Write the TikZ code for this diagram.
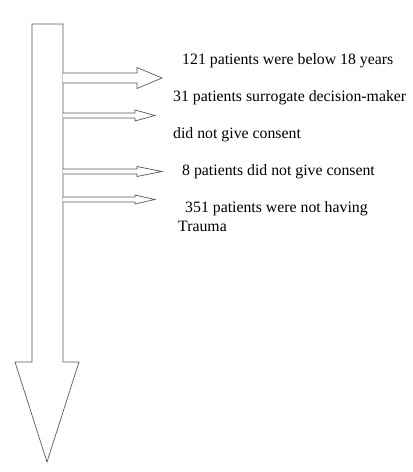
\documentclass[tikz,border=0pt]{standalone}
\usepackage{fontspec}
\setmainfont{Liberation Serif}
\usetikzlibrary{positioning}
\tikzset{
  blkarr/.style={draw=black!65,line width=0.7pt,fill=white,line join=miter},
  lbl/.style={font=\fontsize{15.8}{17}\selectfont,anchor=west,inner sep=0pt}
}
\begin{document}
\begin{tikzpicture}[x=1pt,y=-1pt]
  \useasboundingbox (0,0) rectangle (413,472);
  % Main downward arrow
  \draw[blkarr] (32,24) -- (63,24) -- (63,362) -- (79,362) -- (47,462) -- (15,362) -- (32,362) -- cycle;

  % Side arrows: centre y / shaft half / head half / head base / tip
  \foreach \y/\s/\h/\b/\t in {78/5/10.5/137/162, 115.5/2.5/5.5/135/155, 171.5/2.5/5/137/162, 199.5/2.5/4.5/135/155}
    \draw[blkarr] (63,\y-\s) -- (\b,\y-\s) -- (\b,\y-\h) -- (\t,\y) -- (\b,\y+\h) -- (\b,\y+\s) -- (63,\y+\s);

  % Exclusion labels
  \node[lbl] (below18) at (182,61) {121 patients were below 18 years};
  \node[lbl] (surrogate) at (173,98) {31 patients surrogate decision-maker};
  \node[lbl] (noconsent) at (173,135) {did not give consent};
  \node[lbl] (consent8) at (182,172) {8 patients did not give consent};
  \node[lbl] (notrauma) at (185,209) {351 patients were not having};
  \node[lbl] (trauma) at (178,226) {Trauma};
\end{tikzpicture}
\end{document}
